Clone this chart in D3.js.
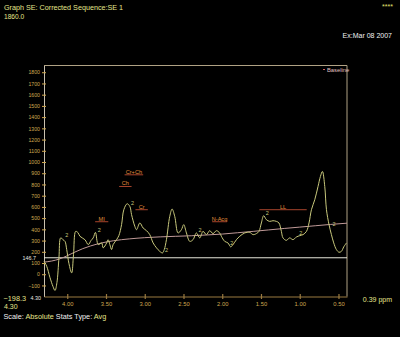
<!DOCTYPE html>
<html>
<head>
<meta charset="utf-8">
<script src="https://cdn.jsdelivr.net/npm/d3@7"></script>
<style>
  html, body { margin: 0; padding: 0; background: #000; }
  svg { display: block; font-family: "Liberation Sans", Arial, sans-serif; }
</style>
</head>
<body>
<svg id="chart" width="400" height="337"></svg>
<script>
// Spectrum: chemical shift (ppm) and signal intensity
const ppm = [4.30, 4.265, 4.223, 4.184, 4.158, 4.133, 4.107, 4.085, 4.055, 4.029, 4.007, 3.978, 3.943, 3.919, 3.891, 3.862, 3.836, 3.772, 3.729, 3.694, 3.665, 3.636, 3.600, 3.556, 3.536, 3.492, 3.472, 3.450, 3.428, 3.408, 3.364, 3.334, 3.299, 3.270, 3.227, 3.192, 3.170, 3.128, 3.106, 3.063, 3.021, 2.977, 2.935, 2.892, 2.848, 2.806, 2.771, 2.748, 2.720, 2.677, 2.647, 2.613, 2.570, 2.527, 2.497, 2.462, 2.419, 2.377, 2.333, 2.290, 2.248, 2.204, 2.162, 2.119, 2.075, 2.033, 2.011, 1.968, 1.926, 1.891, 1.861, 1.817, 1.774, 1.710, 1.645, 1.603, 1.559, 1.526, 1.495, 1.465, 1.430, 1.388, 1.345, 1.301, 1.268, 1.237, 1.216, 1.172, 1.130, 1.087, 1.043, 0.999, 0.957, 0.913, 0.880, 0.849, 0.806, 0.764, 0.733, 0.707, 0.677, 0.655, 0.622, 0.591, 0.561, 0.527, 0.493, 0.462, 0.432, 0.397];
const intensity = [116, 71, -29, -109, -145, -74, 148, 324, 308, 293, 220, 95, 12, 175, 382, 371, 338, 308, 264, 300, 324, 373, 264, 279, 235, 279, 308, 264, 220, 264, 308, 344, 442, 575, 628, 604, 531, 427, 397, 457, 412, 388, 353, 279, 235, 204, 190, 220, 308, 516, 581, 516, 368, 397, 442, 368, 293, 308, 368, 324, 382, 353, 388, 362, 388, 368, 338, 293, 279, 244, 264, 308, 338, 368, 373, 353, 362, 382, 457, 522, 486, 471, 477, 471, 457, 382, 324, 302, 324, 308, 332, 344, 353, 382, 457, 575, 664, 782, 871, 916, 782, 575, 442, 353, 279, 220, 196, 204, 244, 279];

// Fitted baseline
const baselinePpm = [4.30, 4.20, 4.10, 4.00, 3.90, 3.80, 3.70, 3.60, 3.50, 3.40, 3.30, 3.20, 3.10, 3.00, 2.80, 2.60, 2.40, 2.20, 2.00, 1.80, 1.60, 1.40, 1.20, 1.00, 0.80, 0.60, 0.39];
const baselineVals = [108, 118, 136, 165, 198, 228, 252, 272, 287, 299, 308, 315, 321, 326, 333, 338, 343, 350, 358, 370, 382, 395, 408, 420, 432, 444, 455];

// Peak markers
const markerPpm = [4.04, 3.62, 3.19, 2.75, 2.32, 1.91, 1.45, 1.02, 0.59];
const markerVals = [322, 366, 610, 186, 366, 250, 518, 340, 420];

// Metabolite regions
const regionNames = ["MI", "Cr+Ch", "Ch", "Cr", "N-Acq", "LL"];
const regionStart = [3.64, 3.26, 3.33, 3.12, 2.13, 1.52];
const regionEnd   = [3.47, 3.02, 3.17, 2.96, 1.94, 0.91];
const regionLevel = [468, 886, 782, 575, 468, 575];

// Axis ticks
const yTicks = [-100, 0, 100, 200, 300, 400, 500, 600, 700, 800, 900, 1000, 1100, 1200, 1300, 1400, 1500, 1600, 1700, 1800];
const xTicks = [4.00, 3.50, 3.00, 2.50, 2.00, 1.50, 1.00, 0.50];
const refLevel = 146.7;
const yMin = -198.3, yMax = 1860.0;
const xStart = 4.30, xEnd = 0.39;

(function draw() {
  const svg = d3.select("#chart");
  const plotLeft = 44, plotRight = 347, plotTop = 65.5, plotBottom = 296.5;

  const x = d3.scaleLinear().domain([xStart, xEnd]).range([plotLeft, plotRight]);
  const y = d3.scaleLinear().domain([yMin, yMax]).range([plotBottom, plotTop]);

  const frameColor = "#b0a284";
  const axisColor = "#9a7a40";
  const tickText = "#d0a850";
  const yellow = "#e6e68c";

  // Header texts
  svg.append("text").attr("x", 4).attr("y", 10).attr("fill", yellow)
    .attr("font-size", 7.2).text("Graph SE: Corrected Sequence:SE 1");
  svg.append("text").attr("x", 4).attr("y", 19).attr("fill", yellow)
    .attr("font-size", 6.6).text(d3.format(".1f")(yMax));
  svg.append("text").attr("x", 393).attr("y", 9).attr("fill", "#e0e070")
    .attr("font-size", 7).attr("text-anchor", "end").text("****");
  svg.append("text").attr("x", 392).attr("y", 38).attr("fill", "#f0f0f0")
    .attr("font-size", 7).attr("text-anchor", "end").text("Ex:Mar 08 2007");

  // Frame (top and right sides)
  svg.append("path")
    .attr("d", `M${plotLeft},${plotTop}H${plotRight}V${plotBottom}`)
    .attr("fill", "none").attr("stroke", frameColor).attr("stroke-width", 1);

  // Y axis
  const yAxis = svg.append("g").attr("transform", `translate(${plotLeft},0)`)
    .call(d3.axisLeft(y).tickValues(yTicks).tickSize(0).tickPadding(4).tickFormat(d3.format("d")));
  yAxis.select(".domain").attr("stroke", "#c8c0b0");
  yAxis.selectAll(".tick line").attr("x1", -2).attr("x2", 2).attr("stroke", tickText);
  yAxis.selectAll(".tick text").attr("fill", tickText).attr("font-size", 5.2)
    .attr("font-family", "Liberation Sans, Arial, sans-serif");

  // X axis
  const xAxis = svg.append("g").attr("transform", `translate(0,${plotBottom})`)
    .call(d3.axisBottom(x).tickValues(xTicks).tickSize(0).tickPadding(5).tickFormat(d3.format(".2f")));
  xAxis.select(".domain").attr("stroke", axisColor).attr("stroke-width", 1.2);
  xAxis.selectAll(".tick line").attr("y1", -2.5).attr("y2", 2.5).attr("stroke", axisColor).attr("stroke-width", 1.2);
  xAxis.selectAll(".tick text").attr("fill", tickText).attr("font-size", 5.8)
    .attr("font-family", "Liberation Sans, Arial, sans-serif");

  // Axis start label
  svg.append("text").attr("x", plotLeft - 3).attr("y", plotBottom + 3).attr("fill", "#e8e8e0")
    .attr("font-size", 5.4).attr("text-anchor", "end").text(d3.format(".2f")(xStart));

  // Reference level line
  svg.append("line").attr("x1", plotLeft).attr("x2", plotRight)
    .attr("y1", y(refLevel)).attr("y2", y(refLevel))
    .attr("stroke", "#e8e8dc").attr("stroke-width", 1);
  svg.append("text").attr("x", plotLeft - 8).attr("y", y(refLevel) + 2)
    .attr("fill", "#e8e8e0").attr("font-size", 5.4).attr("text-anchor", "end").text(refLevel.toFixed(1));

  // Baseline curve
  const baseLine = d3.line().x((d, i) => x(baselinePpm[i])).y(d => y(d)).curve(d3.curveMonotoneX);
  svg.append("path").datum(baselineVals).attr("d", baseLine)
    .attr("fill", "none").attr("stroke", "#c09a98").attr("stroke-width", 1);

  // Spectrum curve
  const specLine = d3.line().x((d, i) => x(ppm[i])).y(d => y(d)).curve(d3.curveCatmullRom.alpha(0.5));
  svg.append("path").datum(intensity).attr("d", specLine)
    .attr("fill", "none").attr("stroke", "#c8c87c").attr("stroke-width", 1);

  // Peak markers
  svg.append("g").selectAll("text").data(markerPpm).join("text")
    .attr("x", d => x(d) + 1).attr("y", (d, i) => y(markerVals[i]) - 1)
    .attr("fill", "#c8c87c").attr("font-size", 5.5).text("2");

  // Region brackets and names
  const regions = svg.append("g");
  regionNames.forEach((name, i) => {
    regions.append("line")
      .attr("x1", x(regionStart[i])).attr("x2", x(regionEnd[i]))
      .attr("y1", y(regionLevel[i])).attr("y2", y(regionLevel[i]))
      .attr("stroke", "#a8442c").attr("stroke-width", 1);
    regions.append("text")
      .attr("x", (x(regionStart[i]) + x(regionEnd[i])) / 2)
      .attr("y", y(regionLevel[i]) - 1.2)
      .attr("text-anchor", "middle").attr("fill", "#e0903c").attr("font-size", 5.6)
      .text(name);
  });

  // Legend
  svg.append("line").attr("x1", 323).attr("x2", 325).attr("y1", 69.5).attr("y2", 69.5)
    .attr("stroke", "#d06060").attr("stroke-width", 1);
  svg.append("text").attr("x", 327).attr("y", 71.5).attr("fill", "#e0c0c0")
    .attr("font-size", 5.8).text("Baseline");

  // Footer
  svg.append("text").attr("x", 3.5).attr("y", 301.3).attr("fill", yellow)
    .attr("font-size", 7.3).text(d3.format(".1f")(yMin));
  svg.append("text").attr("x", 4).attr("y", 309.3).attr("fill", yellow)
    .attr("font-size", 7).text(d3.format(".2f")(xStart));
  const footer = svg.append("text").attr("x", 3.5).attr("y", 318.5).attr("font-size", 7.3);
  footer.append("tspan").attr("fill", "#f0f0f0").text("Scale: ");
  footer.append("tspan").attr("fill", yellow).text("Absolute");
  footer.append("tspan").attr("fill", "#f0f0f0").text(" Stats Type: ");
  footer.append("tspan").attr("fill", yellow).text("Avg");
  svg.append("text").attr("x", 392).attr("y", 302).attr("fill", yellow)
    .attr("font-size", 7).attr("text-anchor", "end").text(d3.format(".2f")(xEnd) + " ppm");
})();
</script>
</body>
</html>
